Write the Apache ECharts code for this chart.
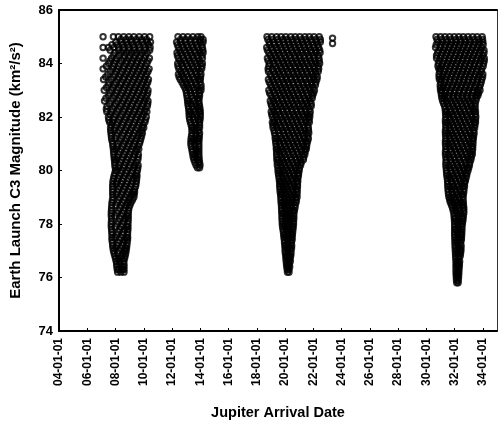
<!DOCTYPE html>
<html>
<head>
<meta charset="utf-8">
<script src="https://cdn.jsdelivr.net/npm/echarts@6/dist/echarts.min.js"></script>
<style>html,body{margin:0;padding:0;background:#fff}#c{width:498px;height:426px}</style>
</head>
<body>
<div id="c"></div>
<script>
// x = Jupiter arrival date in years after 2000 (e.g. 8.5 = mid 2008), y = C3 (km^2/s^2)
// Each row: [C3, arrival dates ...]
const xTickYears = [4,6,8,10,12,14,16,18,20,22,24,26,28,30,32,34];
const yTicks = [74,76,78,80,82,84,86];

const window2008 = [
[85.0, 7.12,7.85,8.2,8.58,8.95,9.3,9.68,10.05,10.42],
[84.8, 8.02,8.4,8.78,9.12,9.5,9.88,10.25,10.48],
[84.6, 7.12,7.5,7.88,8.22,8.6,8.95,9.32,9.7,10.08,10.45],
[84.4, 7.95,8.4,8.78,9.15,9.5,9.88,10.25],
[84.2, 7.12,7.72,8.08,8.58,8.95,9.3,9.68,10.05,10.4],
[84.0, 7.5,7.92,8.3,8.75,9.12,9.5,9.85,10.22],
[83.8, 7.12,7.78,8.12,8.55,8.92,9.3,9.68,10.05,10.38],
[83.6, 7.45,7.95,8.35,8.75,9.12,9.48,9.85,10.2],
[83.4, 7.15,7.7,8.15,8.55,8.92,9.3,9.68,10.05,10.33],
[83.2, 7.48,7.92,8.35,8.72,9.1,9.48,9.85,10.2],
[83.0, 7.2,7.72,8.12,8.55,8.92,9.3,9.68,10.05,10.3],
[82.8, 7.5,7.95,8.35,8.75,9.12,9.5,9.88,10.22],
[82.6, 7.22,7.7,8.15,8.55,8.92,9.3,9.7,10.05,10.3],
[82.4, 7.4,7.92,8.35,8.75,9.12,9.5,9.88,10.25],
[82.2, 7.38,7.7,8.12,8.55,8.95,9.32,9.7,10.05,10.22],
[82.0, 7.5,7.92,8.35,8.75,9.12,9.5,9.88,10.18],
[81.8, 7.58,7.78,8.15,8.55,8.95,9.32,9.7,10.08],
[81.6, 7.65,7.95,8.38,8.78,9.15,9.52,9.88,10.0],
[81.4, 7.68,8.15,8.58,8.95,9.32,9.7,9.9],
[81.2, 7.72,7.95,8.38,8.78,9.15,9.5,9.8],
[81.0, 7.8,8.15,8.58,8.95,9.32,9.7],
[80.8, 7.85,8.02,8.4,8.78,9.15,9.5,9.65],
[80.6, 7.88,8.2,8.6,8.98,9.35,9.62],
[80.4, 7.92,8.05,8.42,8.8,9.18,9.58],
[80.2, 7.95,8.25,8.62,9.0,9.38,9.6],
[80.0, 8.0,8.1,8.45,8.82,9.2,9.55],
[79.8, 7.9,8.28,8.65,9.02,9.4,9.52],
[79.6, 7.82,8.1,8.48,8.85,9.22,9.48],
[79.4, 7.8,8.3,8.68,9.05,9.42],
[79.2, 7.8,8.12,8.5,8.88,9.25,9.35],
[79.0, 7.82,8.3,8.68,9.05,9.3],
[78.8, 7.75,8.12,8.5,8.88,9.1],
[78.6, 7.72,8.3,8.68,8.95],
[78.4, 7.7,8.1,8.5,8.9],
[78.2, 7.72,8.3,8.68,8.9],
[78.0, 7.7,8.1,8.5,8.88],
[77.8, 7.72,8.28,8.65,8.88],
[77.6, 7.75,8.08,8.48,8.85],
[77.4, 7.75,8.28,8.65,8.85],
[77.2, 7.8,8.1,8.48,8.8],
[77.0, 7.85,8.25,8.62,8.75],
[76.8, 7.95,8.42,8.68],
[76.6, 8.05,8.3,8.58],
[76.4, 8.1,8.45,8.6],
[76.2, 8.15,8.38,8.6]
];
const window2008b = [
[84.9, 8.38,8.75,9.1,9.48,9.85,10.2],
[84.7, 7.75,8.12,8.5,8.88,9.25,9.62,10.0,10.35],
[84.5, 7.62,8.2,8.58,8.95,9.32,9.7,10.08,10.42],
[84.3, 7.85,8.25,8.62,9.0,9.38,9.75,10.12],
[84.1, 7.6,8.0,8.42,8.8,9.18,9.55,9.92,10.3],
[83.9, 7.35,7.85,8.22,8.62,9.0,9.38,9.75,10.12],
[83.7, 7.62,8.05,8.45,8.85,9.22,9.6,9.98,10.3],
[83.5, 7.3,7.85,8.25,8.62,9.0,9.38,9.75,10.12],
[83.3, 7.55,8.02,8.42,8.82,9.2,9.58,9.95,10.28],
[83.1, 7.35,7.82,8.22,8.62,9.0,9.38,9.75,10.12],
[82.9, 7.6,8.05,8.45,8.85,9.22,9.6,9.98,10.28],
[82.7, 7.32,7.82,8.25,8.65,9.02,9.4,9.78,10.15],
[82.5, 7.58,8.02,8.45,8.82,9.2,9.58,9.95,10.28],
[82.3, 7.35,7.8,8.22,8.65,9.02,9.4,9.78,10.12],
[82.1, 7.6,8.02,8.45,8.85,9.22,9.6,9.98],
[81.9, 7.52,7.85,8.25,8.65,9.05,9.42,9.8,10.12],
[81.7, 7.7,8.08,8.48,8.88,9.25,9.62,9.95],
[81.5, 7.66,7.88,8.28,8.68,9.05,9.42,9.85],
[81.3, 7.7,8.05,8.48,8.88,9.25,9.6,9.85],
[81.1, 7.76,8.3,8.7,9.05,9.42,9.75],
[80.9, 7.82,8.1,8.5,8.88,9.25,9.6],
[80.7, 7.86,8.3,8.7,9.08,9.45],
[80.5, 7.9,8.15,8.52,8.9,9.28,9.6],
[80.3, 7.94,8.35,8.72,9.1,9.48],
[80.1, 7.98,8.2,8.58,8.95,9.32,9.58],
[79.9, 7.95,8.38,8.75,9.12,9.5],
[79.7, 7.86,8.18,8.55,8.92,9.3,9.5],
[79.5, 7.81,8.05,8.4,8.78,9.15,9.45],
[79.3, 7.8,8.22,8.6,8.98,9.35],
[79.1, 7.8,8.05,8.42,8.8,9.18,9.32],
[78.9, 7.78,8.2,8.6,8.98,9.2],
[78.7, 7.74,8.02,8.4,8.78,9.02],
[78.5, 7.71,8.2,8.6,8.92],
[78.3, 7.7,7.95,8.4,8.8,8.9],
[78.1, 7.71,8.2,8.6,8.89],
[77.9, 7.7,7.98,8.4,8.78,8.88],
[77.7, 7.73,8.18,8.55,8.86],
[77.5, 7.75,7.95,8.38,8.75,8.86],
[77.3, 7.78,8.18,8.55,8.82],
[77.1, 7.82,8.0,8.38,8.7,8.78],
[76.9, 7.9,8.15,8.55,8.72],
[76.7, 8.0,8.2,8.48,8.64],
[76.5, 8.08,8.3,8.6],
[76.3, 8.12,8.25,8.5,8.6]
];

const window2013 = [
[85.0, 12.42,12.78,13.12,13.48,13.82,14.05],
[84.8, 12.32,12.6,12.95,13.3,13.65,13.98,14.2],
[84.6, 12.45,12.78,13.12,13.48,13.82,14.15],
[84.4, 12.35,12.62,12.98,13.32,13.65,14.0,14.2],
[84.2, 12.45,12.8,13.15,13.5,13.85,14.15],
[84.0, 12.4,12.65,13.0,13.35,13.68,14.0,14.15],
[83.8, 12.48,12.82,13.18,13.52,13.85,14.1],
[83.6, 12.45,12.68,13.02,13.38,13.72,14.05],
[83.4, 12.58,12.88,13.2,13.55,13.88,14.0],
[83.2, 12.8,13.05,13.4,13.72,14.05],
[83.0, 12.98,13.25,13.58,13.9,14.05],
[82.8, 13.05,13.38,13.7,13.95],
[82.6, 13.1,13.22,13.55,13.9],
[82.4, 13.15,13.42,13.75,13.95],
[82.2, 13.2,13.3,13.6,13.92,14.0],
[82.0, 13.22,13.48,13.8,14.0],
[81.8, 13.3,13.62,13.95],
[81.6, 13.4,13.5,13.78,13.95],
[81.4, 13.42,13.68,13.95],
[81.2, 13.35,13.55,13.85,13.92],
[81.0, 13.33,13.62,13.9],
[80.8, 13.4,13.7,13.9],
[80.6, 13.47,13.62,13.9],
[80.4, 13.55,13.8,13.92],
[80.2, 13.7,13.98],
[80.1, 13.8,13.95]
];
const window2013b = [
[84.9, 12.6,12.95,13.3,13.65,14.0,14.2],
[84.7, 12.38,12.7,13.05,13.4,13.75,14.1],
[84.5, 12.52,12.88,13.22,13.58,13.92,14.18],
[84.3, 12.38,12.72,13.08,13.42,13.78,14.12],
[84.1, 12.55,12.9,13.25,13.6,13.95],
[83.9, 12.42,12.75,13.1,13.45,13.78,14.12],
[83.7, 12.6,12.95,13.3,13.65,13.98],
[83.5, 12.5,12.8,13.12,13.48,13.82,14.02],
[83.3, 12.7,13.0,13.32,13.65,13.98],
[83.1, 12.9,13.15,13.5,13.82,14.05],
[82.9, 13.02,13.32,13.62,13.95],
[82.7, 13.08,13.45,13.8,13.92],
[82.5, 13.12,13.35,13.68,13.92],
[82.3, 13.18,13.5,13.85,13.98],
[82.1, 13.21,13.4,13.72,14.0],
[81.9, 13.25,13.55,13.88,13.98],
[81.7, 13.35,13.7,13.95],
[81.5, 13.41,13.6,13.88],
[81.3, 13.38,13.72,13.93],
[81.1, 13.34,13.5,13.8,13.9],
[80.9, 13.36,13.62,13.9],
[80.7, 13.43,13.75,13.9],
[80.5, 13.5,13.7,13.91],
[80.3, 13.62,13.88,13.95]
];

const window2020 = [
[85.0, 18.72,19.05,19.4,19.72,20.05,20.4,20.72,21.05,21.4,21.72,22.05,22.42],
[84.8, 18.88,19.2,19.55,19.9,20.22,20.55,20.9,21.22,21.55,21.9,22.25,22.5],
[84.6, 18.7,19.02,19.38,19.7,20.05,20.38,20.7,21.05,21.38,21.7,22.05,22.38],
[84.4, 18.85,19.2,19.52,19.88,20.2,20.55,20.88,21.2,21.55,21.88,22.2,22.48],
[84.2, 18.75,19.05,19.38,19.72,20.05,20.4,20.72,21.05,21.38,21.72,22.05,22.4],
[84.0, 18.9,19.22,19.55,19.9,20.22,20.55,20.9,21.22,21.55,21.9,22.2,22.45],
[83.8, 18.8,19.1,19.42,19.75,20.08,20.4,20.75,21.08,21.4,21.75,22.08,22.38],
[83.6, 18.95,19.28,19.6,19.92,20.25,20.58,20.92,21.25,21.58,21.9,22.2],
[83.4, 18.82,19.12,19.45,19.78,20.1,20.42,20.78,21.1,21.42,21.75,22.05,22.25],
[83.2, 18.98,19.3,19.62,19.95,20.28,20.6,20.95,21.28,21.6,21.9,22.15],
[83.0, 18.85,19.15,19.48,19.8,20.12,20.45,20.78,21.12,21.45,21.78,22.08],
[82.8, 19.0,19.32,19.65,19.98,20.3,20.62,20.95,21.28,21.62,21.95],
[82.6, 18.95,19.18,19.5,19.82,20.15,20.48,20.8,21.12,21.45,21.78],
[82.4, 19.05,19.35,19.68,20.0,20.32,20.65,20.98,21.3,21.62,21.85],
[82.2, 19.02,19.22,19.52,19.85,20.18,20.5,20.82,21.15,21.48,21.78],
[82.0, 19.1,19.38,19.7,20.02,20.35,20.68,21.0,21.32,21.62,21.75],
[81.8, 19.1,19.25,19.55,19.88,20.2,20.52,20.85,21.18,21.5,21.72],
[81.6, 19.15,19.42,19.72,20.05,20.38,20.7,21.02,21.35,21.65],
[81.4, 19.25,19.58,19.9,20.22,20.55,20.88,21.2,21.5,21.68],
[81.2, 19.3,19.45,19.75,20.08,20.4,20.72,21.05,21.38,21.65],
[81.0, 19.35,19.62,19.95,20.25,20.58,20.9,21.22,21.55],
[80.8, 19.38,19.5,19.8,20.1,20.42,20.75,21.08,21.42,21.5],
[80.6, 19.4,19.65,19.95,20.28,20.6,20.92,21.25,21.4],
[80.4, 19.42,19.55,19.82,20.12,20.45,20.78,21.1,21.3],
[80.2, 19.45,19.7,20.0,20.3,20.62,20.92,21.1],
[80.0, 19.5,19.62,19.88,20.18,20.5,20.8,21.0],
[79.8, 19.55,19.78,20.05,20.35,20.65,20.95],
[79.6, 19.6,19.7,19.95,20.22,20.52,20.82,20.9],
[79.4, 19.62,19.85,20.1,20.38,20.68,20.88],
[79.2, 19.65,19.78,20.02,20.28,20.58,20.86],
[79.0, 19.7,19.92,20.18,20.45,20.72,20.85],
[78.8, 19.72,19.85,20.1,20.35,20.6,20.78],
[78.6, 19.75,19.98,20.22,20.48,20.7],
[78.4, 19.77,19.9,20.12,20.38,20.62],
[78.2, 19.78,20.02,20.28,20.5,20.62],
[78.0, 19.8,19.95,20.18,20.42,20.6],
[77.8, 19.85,20.08,20.32,20.56],
[77.6, 19.9,20.0,20.22,20.45,20.52],
[77.4, 19.95,20.15,20.38,20.5],
[77.2, 19.98,20.08,20.28,20.47],
[77.0, 20.0,20.2,20.42],
[76.8, 20.05,20.15,20.32,20.4],
[76.6, 20.08,20.25,20.37],
[76.4, 20.12,20.22,20.33],
[76.2, 20.17,20.28],
[84.95, 23.36],
[84.75, 23.36]
];
const window2020b = [
[84.9, 18.78,19.12,19.48,19.85,20.15,20.52,20.82,21.18,21.48,21.85,22.18,22.5],
[84.7, 18.9,19.25,19.6,19.95,20.3,20.62,20.98,21.3,21.65,21.98,22.32],
[84.5, 18.75,19.1,19.45,19.78,20.12,20.45,20.8,21.12,21.48,21.8,22.15,22.45],
[84.3, 18.95,19.3,19.62,19.98,20.32,20.68,21.0,21.35,21.68,22.0,22.35],
[84.1, 18.8,19.15,19.48,19.82,20.15,20.48,20.82,21.15,21.48,21.82,22.12,22.42],
[83.9, 18.85,19.32,19.68,20.0,20.35,20.7,21.02,21.35,21.68,22.02,22.35],
[83.7, 18.82,19.18,19.5,19.85,20.18,20.52,20.85,21.18,21.52,21.85,22.15,22.35],
[83.5, 19.02,19.38,19.72,20.05,20.4,20.72,21.05,21.4,21.72,22.02,22.28],
[83.3, 18.88,19.22,19.55,19.9,20.22,20.55,20.88,21.22,21.55,21.88,22.18],
[83.1, 19.05,19.4,19.72,20.05,20.38,20.72,21.05,21.38,21.7,22.0],
[82.9, 18.9,19.25,19.58,19.9,20.22,20.55,20.9,21.22,21.55,21.88,22.02],
[82.7, 19.1,19.42,19.75,20.08,20.4,20.72,21.05,21.38,21.7,21.92],
[82.5, 19.0,19.28,19.6,19.92,20.25,20.58,20.92,21.25,21.55,21.85],
[82.3, 19.15,19.48,19.8,20.12,20.45,20.78,21.1,21.42,21.72],
[82.1, 19.05,19.32,19.62,19.95,20.28,20.6,20.92,21.25,21.55,21.75],
[81.9, 19.2,19.5,19.82,20.15,20.48,20.8,21.12,21.45,21.7],
[81.7, 19.14,19.35,19.65,19.98,20.3,20.62,20.95,21.28,21.6],
[81.5, 19.22,19.52,19.85,20.15,20.48,20.8,21.12,21.42,21.66],
[81.3, 19.3,19.65,19.98,20.32,20.65,20.98,21.3,21.6],
[81.1, 19.33,19.55,19.85,20.18,20.5,20.82,21.15,21.45,21.6],
[80.9, 19.38,19.7,20.02,20.35,20.68,21.0,21.32,21.52],
[80.7, 19.4,19.6,19.88,20.2,20.52,20.85,21.18,21.42],
[80.5, 19.42,19.75,20.05,20.38,20.7,21.02,21.32],
[80.3, 19.45,19.62,19.92,20.22,20.55,20.85,21.15],
[80.1, 19.5,19.78,20.08,20.4,20.72,21.02],
[79.9, 19.52,19.7,19.98,20.28,20.58,20.88,20.96],
[79.7, 19.58,19.85,20.15,20.45,20.75,20.9],
[79.5, 19.62,19.78,20.05,20.32,20.62,20.88],
[79.3, 19.64,19.9,20.18,20.48,20.78,20.86],
[79.1, 19.68,19.82,20.08,20.38,20.65,20.84],
[78.9, 19.71,19.98,20.25,20.52,20.8],
[78.7, 19.74,19.92,20.18,20.42,20.72],
[78.5, 19.76,20.05,20.3,20.55,20.66],
[78.3, 19.78,19.98,20.2,20.45,20.62],
[78.1, 19.8,20.08,20.35,20.6],
[77.9, 19.82,20.0,20.25,20.5,20.58],
[77.7, 19.88,20.12,20.38,20.54],
[77.5, 19.92,20.08,20.3,20.5],
[77.3, 19.96,20.2,20.45],
[77.1, 20.0,20.15,20.35,20.46],
[76.9, 20.02,20.22,20.42],
[76.7, 20.06,20.2,20.36],
[76.5, 20.1,20.3],
[76.3, 20.15,20.28]
];

const window2032 = [
[85.0, 30.68,31.0,31.32,31.65,31.98,32.3,32.62,32.95,33.28,33.6,33.95],
[84.8, 30.82,31.15,31.48,31.8,32.12,32.45,32.78,33.12,33.45,33.78,34.0],
[84.6, 30.65,30.98,31.3,31.62,31.95,32.28,32.6,32.95,33.28,33.6,33.92],
[84.4, 30.8,31.12,31.45,31.78,32.1,32.42,32.75,33.1,33.42,33.75,34.08],
[84.2, 30.72,30.98,31.3,31.62,31.95,32.28,32.6,32.92,33.25,33.58,33.9,34.1],
[84.0, 30.85,31.15,31.48,31.8,32.12,32.45,32.78,33.1,33.42,33.75,34.05],
[83.8, 30.88,31.0,31.32,31.65,31.98,32.3,32.62,32.95,33.28,33.6,33.92],
[83.6, 30.9,31.18,31.5,31.82,32.15,32.48,32.8,33.12,33.45,33.78,34.0],
[83.4, 30.92,31.05,31.35,31.68,32.0,32.32,32.65,32.98,33.3,33.62,33.92],
[83.2, 30.98,31.22,31.52,31.85,32.18,32.5,32.82,33.15,33.48,33.82],
[83.0, 31.0,31.1,31.38,31.7,32.02,32.35,32.68,33.0,33.32,33.62,33.8],
[82.8, 31.07,31.25,31.55,31.88,32.2,32.52,32.85,33.18,33.5,33.65],
[82.6, 31.15,31.42,31.72,32.05,32.38,32.7,33.02,33.32,33.5],
[82.4, 31.3,31.58,31.9,32.22,32.55,32.88,33.2,33.45],
[82.2, 31.35,31.45,31.75,32.08,32.4,32.72,33.05,33.35,33.48],
[82.0, 31.38,31.62,31.92,32.25,32.58,32.9,33.22,33.5],
[81.8, 31.35,31.5,31.78,32.1,32.42,32.75,33.08,33.4,33.48],
[81.6, 31.38,31.65,31.95,32.28,32.6,32.92,33.25,33.42],
[81.4, 31.35,31.52,31.8,32.12,32.45,32.78,33.1,33.38],
[81.2, 31.38,31.68,31.98,32.3,32.62,32.95,33.28,33.32],
[81.0, 31.35,31.55,31.82,32.15,32.48,32.8,33.12,33.3],
[80.8, 31.38,31.7,32.0,32.32,32.65,32.98,33.28],
[80.6, 31.35,31.55,31.85,32.18,32.5,32.82,33.12,33.25],
[80.4, 31.4,31.72,32.02,32.35,32.68,33.0,33.15],
[80.2, 31.38,31.58,31.88,32.2,32.52,32.82,33.05],
[80.0, 31.42,31.75,32.05,32.38,32.68,32.95],
[79.8, 31.45,31.62,31.9,32.22,32.55,32.85],
[79.6, 31.5,31.78,32.08,32.4,32.72,32.75],
[79.4, 31.52,31.68,31.95,32.25,32.55,32.7],
[79.2, 31.55,31.82,32.12,32.42,32.65],
[79.0, 31.6,31.75,32.0,32.3,32.6],
[78.8, 31.7,31.9,32.18,32.45,32.62],
[78.6, 31.85,32.05,32.32,32.6,32.65],
[78.4, 31.95,32.15,32.42,32.65],
[78.2, 31.98,32.05,32.3,32.55,32.6],
[78.0, 32.0,32.2,32.45,32.55],
[77.8, 32.0,32.1,32.32,32.52],
[77.6, 32.0,32.22,32.45,32.5],
[77.4, 32.02,32.15,32.35,32.48],
[77.2, 32.03,32.25,32.46],
[77.0, 32.05,32.2,32.38,32.45],
[76.8, 32.07,32.28,32.4],
[76.6, 32.1,32.22,32.36],
[76.4, 32.1,32.25,32.33],
[76.2, 32.1,32.22,32.3],
[76.0, 32.12,32.28],
[75.8, 32.15,32.25]
];
const window2032b = [
[84.9, 30.75,31.1,31.42,31.75,32.08,32.4,32.72,33.05,33.38,33.7,33.98],
[84.7, 30.7,31.02,31.35,31.7,32.02,32.35,32.68,33.0,33.35,33.68,34.02],
[84.5, 30.88,31.22,31.55,31.88,32.2,32.52,32.85,33.18,33.52,33.85,34.08],
[84.3, 30.72,31.05,31.38,31.7,32.05,32.38,32.7,33.02,33.35,33.68,34.0],
[84.1, 30.9,31.25,31.58,31.9,32.22,32.55,32.88,33.2,33.52,33.85,34.1],
[83.9, 30.82,31.08,31.4,31.72,32.05,32.38,32.7,33.05,33.38,33.7,34.02],
[83.7, 30.95,31.28,31.6,31.92,32.25,32.58,32.9,33.22,33.55,33.88],
[83.5, 30.9,31.12,31.42,31.75,32.08,32.4,32.72,33.05,33.38,33.7,33.98],
[83.3, 31.02,31.32,31.65,31.98,32.3,32.62,32.95,33.28,33.6,33.88],
[83.1, 30.99,31.18,31.48,31.8,32.12,32.45,32.78,33.1,33.42,33.75],
[82.9, 31.05,31.35,31.65,31.98,32.3,32.62,32.95,33.28,33.6,33.7],
[82.7, 31.1,31.28,31.6,31.92,32.25,32.58,32.9,33.22,33.55],
[82.5, 31.22,31.5,31.82,32.15,32.48,32.8,33.12,33.45],
[82.3, 31.33,31.68,32.0,32.32,32.65,32.98,33.3,33.45],
[82.1, 31.36,31.55,31.85,32.18,32.5,32.82,33.15,33.48],
[81.9, 31.35,31.7,32.02,32.35,32.68,33.0,33.32,33.48],
[81.7, 31.37,31.58,31.88,32.2,32.52,32.85,33.18,33.44],
[81.5, 31.35,31.72,32.05,32.38,32.7,33.02,33.35],
[81.3, 31.36,31.6,31.9,32.22,32.55,32.88,33.2,33.35],
[81.1, 31.35,31.75,32.08,32.4,32.72,33.05,33.3],
[80.9, 31.37,31.62,31.92,32.25,32.58,32.9,33.22,33.28],
[80.7, 31.35,31.78,32.1,32.42,32.75,33.08,33.25],
[80.5, 31.38,31.62,31.95,32.28,32.6,32.92,33.18],
[80.3, 31.38,31.8,32.12,32.45,32.78,33.08],
[80.1, 31.4,31.65,31.98,32.3,32.6,32.9,33.0],
[79.9, 31.43,31.82,32.15,32.45,32.75,32.88],
[79.7, 31.48,31.7,32.0,32.32,32.62,32.8],
[79.5, 31.51,31.85,32.18,32.5,32.7],
[79.3, 31.53,31.78,32.05,32.35,32.66],
[79.1, 31.57,31.9,32.2,32.5,32.62],
[78.9, 31.65,31.82,32.08,32.38,32.6],
[78.7, 31.78,32.0,32.25,32.52,32.63],
[78.5, 31.9,32.1,32.38,32.65],
[78.3, 31.96,32.25,32.5,32.62],
[78.1, 31.99,32.15,32.38,32.58],
[77.9, 32.0,32.28,32.52],
[77.7, 32.0,32.18,32.4,32.51],
[77.5, 32.01,32.3,32.49],
[77.3, 32.02,32.2,32.42],
[77.1, 32.04,32.3,32.45],
[76.9, 32.06,32.22,32.42],
[76.7, 32.08,32.3],
[76.5, 32.1,32.2,32.34],
[76.3, 32.1,32.31],
[76.1, 32.11,32.2,32.29],
[75.9, 32.13,32.26]
];

function toPoints(rows){
  const pts = [];
  rows.forEach(r => { for (let i = 1; i < r.length; i++) pts.push([r[i], r[0]]); });
  return pts;
}
const allPoints = [].concat(
  toPoints(window2008), toPoints(window2008b),
  toPoints(window2013), toPoints(window2013b),
  toPoints(window2020), toPoints(window2020b),
  toPoints(window2032), toPoints(window2032b));

const pad = v => (v < 10 ? '0' : '') + v;
const FONT = '"Liberation Sans", Arial, sans-serif';

const chart = echarts.init(document.getElementById('c'), null, {renderer: 'canvas'});
chart.setOption({
  animation: false,
  backgroundColor: '#fff',
  grid: {left: 59, right: 1, top: 10, bottom: 95, containLabel: false, outerBoundsMode: 'none'},
  xAxis: [{
    type: 'value', min: 4, max: 35, interval: 2,
    name: 'Jupiter Arrival Date', nameLocation: 'middle', nameGap: 74,
    nameTextStyle: {fontFamily: FONT, fontWeight: 'bold', fontSize: 14.5, color: '#000'},
    axisLine: {show: true, onZero: false, lineStyle: {color: '#000', width: 2}},
    axisTick: {show: true, inside: true, length: 3, lineStyle: {color: '#000', width: 1}},
    splitLine: {show: false},
    axisLabel: {
      rotate: 90, margin: 7, fontFamily: FONT, fontWeight: 'bold', fontSize: 12, color: '#000',
      showMaxLabel: false,
      formatter: v => xTickYears.indexOf(v) >= 0 ? pad(v) + '-01-01' : ''
    }
  }, {
    type: 'value', min: 4, max: 35, position: 'top',
    axisLine: {show: true, onZero: false, lineStyle: {color: '#000', width: 2}},
    axisTick: {show: false}, axisLabel: {show: false}, splitLine: {show: false}
  }],
  yAxis: [{
    type: 'value', min: 74, max: 86, interval: 2,
    name: 'Earth Launch C3 Magnitude (km²/s²)', nameLocation: 'middle', nameGap: 36,
    nameTextStyle: {fontFamily: FONT, fontWeight: 'bold', fontSize: 15, color: '#000'},
    axisLine: {show: true, onZero: false, lineStyle: {color: '#000', width: 2}},
    axisTick: {show: true, inside: true, length: 3, lineStyle: {color: '#000', width: 1}},
    splitLine: {show: false},
    axisLabel: {
      margin: 6, fontFamily: FONT, fontWeight: 'bold', fontSize: 13, color: '#000',
      formatter: v => yTicks.indexOf(v) >= 0 ? String(v) : ''
    }
  }, {
    type: 'value', min: 74, max: 86, position: 'right',
    axisLine: {show: true, onZero: false, lineStyle: {color: '#333', width: 1}},
    axisTick: {show: false}, axisLabel: {show: false}, splitLine: {show: false}
  }],
  series: [{
    type: 'scatter',
    xAxisIndex: 0, yAxisIndex: 0,
    data: allPoints,
    symbol: 'circle',
    symbolSize: 5.4,
    large: false,
    itemStyle: {color: 'rgba(0,0,0,0)', borderColor: '#000', borderWidth: 2},
    emphasis: {disabled: true},
    silent: true
  }]
});
</script>
</body>
</html>
